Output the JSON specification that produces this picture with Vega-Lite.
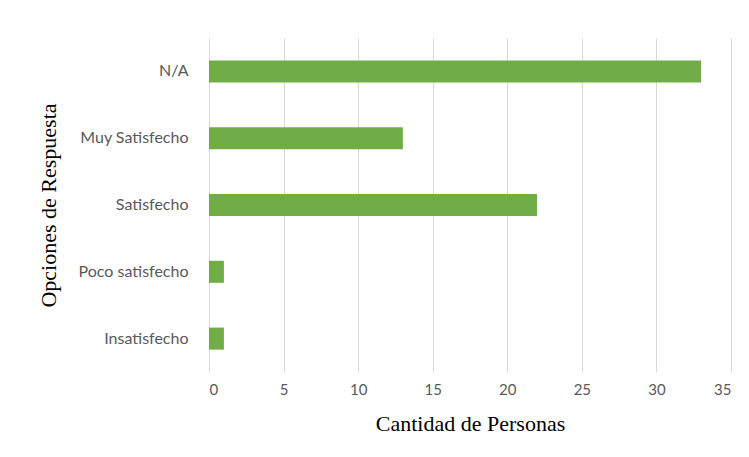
{
  "$schema": "https://vega.github.io/schema/vega-lite/v6.json",
  "autosize": "none",
  "width": 522,
  "height": 334,
  "padding": {"left": 209, "top": 38, "right": 18, "bottom": 85},
  "background": "white",
  "config": {"view": {"stroke": null}},
  "data": {"values": [
    {"opcion": "N/A", "cantidad": 33},
    {"opcion": "Muy Satisfecho", "cantidad": 13},
    {"opcion": "Satisfecho", "cantidad": 22},
    {"opcion": "Poco satisfecho", "cantidad": 1},
    {"opcion": "Insatisfecho", "cantidad": 1}
  ]},
  "mark": {"type": "bar", "color": "#70ad47"},
  "encoding": {
    "y": {
      "field": "opcion", "type": "nominal", "sort": null,
      "scale": {"paddingInner": 0.67, "paddingOuter": 0.335},
      "axis": {
        "title": "Opciones de Respuesta",
        "titleFont": "Liberation Serif", "titleFontSize": 22, "titleFontWeight": "normal", "titleColor": "#000000",
        "titlePadding": 18,
        "labelFont": "Lato", "labelFontSize": 16, "labelColor": "#595959", "labelPadding": 21,
        "ticks": false, "domain": false, "grid": false
      }
    },
    "x": {
      "field": "cantidad", "type": "quantitative",
      "scale": {"domain": [0, 35], "nice": false},
      "axis": {
        "title": "Cantidad de Personas", "values": [0,5,10,15,20,25,30,35],
        "titleFont": "Liberation Serif", "titleFontSize": 22, "titleFontWeight": "normal", "titleColor": "#000000",
        "titlePadding": 16,
        "labelFont": "Lato", "labelFontSize": 15, "labelColor": "#595959", "labelPadding": 10,
        "ticks": false, "domain": false, "grid": true, "gridColor": "#d9d9d9", "gridWidth": 1
      }
    }
  }
}
